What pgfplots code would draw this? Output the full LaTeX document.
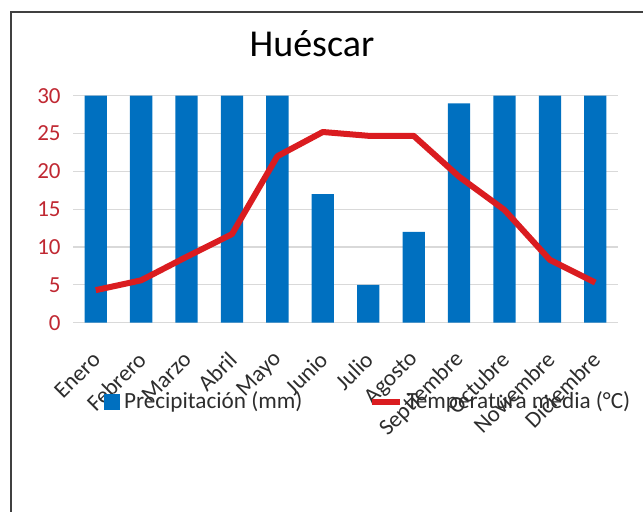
\documentclass[border=0pt]{standalone}
\usepackage{pgfplots}
\pgfplotsset{compat=1.18}
\usepackage{fontspec}
\setmainfont{Carlito}
\definecolor{barblue}{RGB}{0,112,192}
\definecolor{tempred}{RGB}{218,28,32}
\definecolor{tickred}{RGB}{192,40,50}
\definecolor{gridgray}{RGB}{217,217,217}
\definecolor{labgray}{RGB}{45,45,45}
\begin{document}
\begin{tikzpicture}
\path[use as bounding box] (0,0) rectangle (321.5pt,256pt);
\draw[black!75, line width=0.8pt] (5.5pt,0) -- (5.5pt,250pt) -- (321.5pt,250pt);
\node[font=\fontsize{19}{22}\selectfont, text=black] at (156pt,234pt) {Huéscar};
\begin{axis}[
  at={(36.5pt,94.65pt)}, anchor=south west,
  scale only axis, width=272.5pt, height=113.5pt,
  xmin=-0.5, xmax=11.5, ymin=0, ymax=30,
  ytick={0,5,...,30},
  xtick={0,...,11},
  xticklabels={Enero,Febrero,Marzo,Abril,Mayo,Junio,Julio,Agosto,Septiembre,Octubre,Noviembre,Diciembre},
  axis line style={draw=none},
  major tick length=0pt,
  ymajorgrids, grid style={gridgray, line width=0.6pt},
  tick label style={font=\fontsize{11.5}{13}\selectfont},
  /pgf/number format/assume math mode=true,
  yticklabel style={text=tickred, anchor=east, inner sep=0pt, xshift=-6pt},
  xticklabel style={text=labgray, inner sep=0pt, xshift=0.5pt, yshift=-16.5pt, rotate=45, anchor=east},
  legend columns=2,
  legend style={at={(0.0569,-0.349)}, anchor=west, draw=none, fill=none, inner sep=0pt, outer sep=0pt,
    font=\fontsize{11.6}{13}\selectfont, text=labgray,
    /tikz/every even column/.append style={column sep=31pt}},
  clip=false,
]
\addplot[ybar, bar width=0.49, fill=barblue, draw=none,
  legend image code/.code={\fill[barblue] (0pt,-4.2pt) rectangle (8pt,4.2pt);}]
  coordinates {(0,30) (1,30) (2,30) (3,30) (4,30) (5,17) (6,5) (7,12) (8,29) (9,30) (10,30) (11,30)};
\addlegendentry{Precipitación (mm)}
\addplot[tempred, line width=3pt, line join=round, mark=none,
  legend image code/.code={\draw[tempred, line width=3pt] (0pt,0pt) -- (14pt,0pt);}]
  coordinates {(0,4.3) (1,5.6) (2,8.7) (3,11.7) (4,22.0) (5,25.2) (6,24.7) (7,24.7) (8,19.3) (9,14.9) (10,8.3) (11,5.3)};
\addlegendentry{Temperatura media (°C)}
\end{axis}
\end{tikzpicture}
\end{document}
